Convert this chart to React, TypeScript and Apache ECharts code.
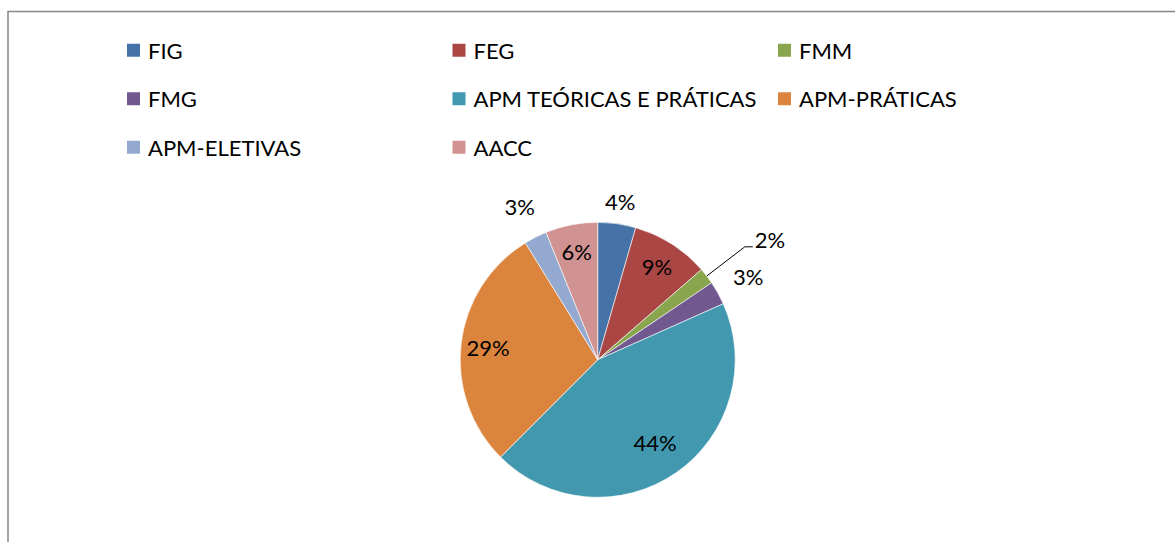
import React, { useEffect, useRef } from "react";
import * as echarts from "echarts";

const categories = [
  "FIG",
  "FEG",
  "FMM",
  "FMG",
  "APM TEÓRICAS E PRÁTICAS",
  "APM-PRÁTICAS",
  "APM-ELETIVAS",
  "AACC",
];
const shares = [4.46, 9.15, 1.93, 2.78, 44.17, 28.69, 2.69, 6.13];
const colors = ["#4572A7", "#AA4643", "#89A54E", "#71588F", "#4198AF", "#DB843D", "#93A9CF", "#D19392"];
// label groups (which slice's percentage label sits at which distance from the centre)
const labelsNearCentre = ["APM TEÓRICAS E PRÁTICAS"];
const labelsInside = ["FEG", "APM-PRÁTICAS", "AACC"];
const labelsJustOutside = ["FIG"];
const labelsOutside = ["FMG", "APM-ELETIVAS"];
const leaderLabels = ["FMM"];

const FONT = "Lato";
const FS = 22;
const CX = 597.7;
const CY = 359.8;
const R = 137.5;

const pctFmt = (p: any) => Math.round(p.percent) + "%";

export default function App() {
  const ref = useRef<HTMLDivElement>(null);
  useEffect(() => {
    if (!ref.current) return;
    const chart = echarts.init(ref.current, null, { renderer: "svg" });
    const labelText = { fontFamily: FONT, fontSize: FS, color: "#000" };

    const mainData = categories.map((name, i) => ({
      name,
      value: shares[i],
      itemStyle: { color: colors[i] },
      label: { show: leaderLabels.includes(name) },
      labelLine: { show: leaderLabels.includes(name) },
    }));

    const labelRing = (names: string[], r0: number, r1: number) => ({
      type: "pie",
      center: [CX, CY],
      radius: [r0, r1],
      startAngle: 90,
      clockwise: true,
      avoidLabelOverlap: false,
      silent: true,
      itemStyle: { color: "rgba(0,0,0,0)", borderWidth: 0 },
      label: { position: "inside", formatter: pctFmt, ...labelText },
      labelLine: { show: false },
      data: categories.map((name, i) => ({
        name,
        value: shares[i],
        label: { show: names.includes(name) },
      })),
    });

    chart.setOption({
      animation: false,
      backgroundColor: "#fff",
      graphic: [
        {
          type: "rect",
          shape: { x: 8, y: 11.5, width: 1400, height: 800 },
          style: { fill: "none", stroke: "#868686", lineWidth: 1.5 },
          silent: true,
        },
      ],
      legend: {
        left: 120,
        top: 21,
        width: 1000,
        itemGap: 0,
        itemWidth: 15,
        itemHeight: 15,
        icon: "rect",
        selectedMode: false,
        data: categories.map((name, i) => ({ name, itemStyle: { color: colors[i] } })),
        textStyle: {
          fontFamily: FONT,
          fontSize: FS,
          color: "#000",
          width: 302.5,
          lineHeight: 48.5,
          padding: [0, 0, 0, 2],
        },
      },
      series: [
        {
          type: "pie",
          center: [CX, CY],
          radius: [0, R],
          startAngle: 90,
          clockwise: true,
          avoidLabelOverlap: false,
          silent: true,
          itemStyle: { borderColor: "#fff", borderWidth: 0.6 },
          label: {
            position: "outside",
            formatter: (p: any) => pctFmt(p) + "\n",
            distanceToLabelLine: 2,
            lineHeight: 14,
            ...labelText,
          },
          labelLine: {
            length: 48,
            length2: 8,
            smooth: false,
            lineStyle: { color: "#000", width: 1 },
          },
          data: mainData,
        },
        labelRing(labelsNearCentre, 60, 136),
        labelRing(labelsInside, 77, 137.5),
        labelRing(labelsJustOutside, R, 177),
        labelRing(labelsOutside, R, 201),
      ],
    });
    return () => chart.dispose();
  }, []);
  return (
    <div
      ref={ref}
      style={{ position: "fixed", left: 0, top: 0, width: 1175, height: 542 }}
    />
  );
}
